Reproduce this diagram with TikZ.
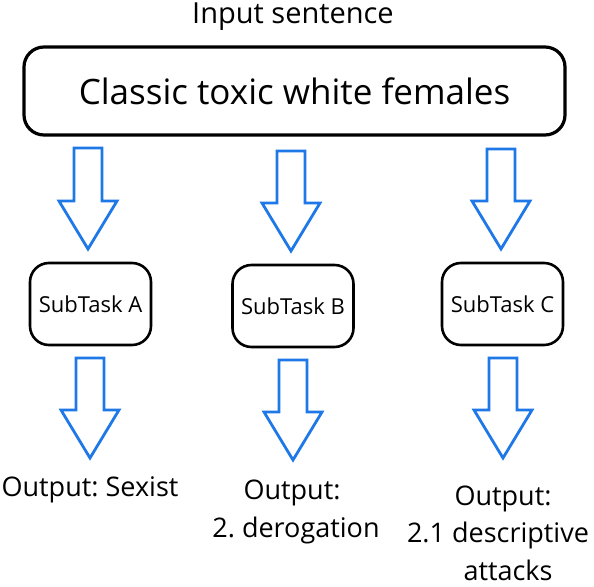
\documentclass[tikz,border=0pt]{standalone}
\usepackage{fontspec}
\setmainfont{Open Sans}
\frenchspacing
\definecolor{arrowblue}{HTML}{1F78E8}
\tikzset{
  mainbox/.style={draw=black, line width=3.2pt, rounded corners=20pt, minimum width=541pt, minimum height=88pt, inner sep=0pt},
  subbox/.style={draw=black, line width=2.6pt, rounded corners=19pt, minimum width=121pt, minimum height=82pt, inner sep=0pt, font=\fontsize{22}{26}\selectfont},
  lbl/.style={inner sep=0pt, align=center},
  outlbl/.style={lbl, font=\fontsize{27}{37.5}\selectfont},
  blockarrow/.style={draw=arrowblue, line width=2.8pt, fill=white, line join=miter, miter limit=10}
}
% #1 centre x, #2 top y, #3 head-base y, #4 tip y
\newcommand{\barrowat}[4]{%
  \draw[blockarrow] (#1-14,#2) -- (#1+14,#2) -- (#1+14,#3) -- (#1+29,#3) -- (#1,#4) -- (#1-29,#3) -- (#1-14,#3) -- cycle;}
\begin{document}
\begin{tikzpicture}[x=1pt,y=-1pt]
\useasboundingbox (0,0) rectangle (594,586);
\node[lbl, font=\fontsize{29}{34}\selectfont] (title) at (293,17) {Input sentence};
\node[mainbox, font=\fontsize{35}{40}\selectfont] (input) at (294.5,91) {Classic toxic white females};

\node[subbox] (sa) at (90.5,304) {SubTask A};
\node[subbox] (sb) at (293,306) {SubTask B};
\node[subbox] (sc) at (502.5,304) {SubTask C};

\barrowat{88}{148}{201}{249}
\barrowat{291}{151}{203}{251}
\barrowat{501}{149}{201}{249}

\barrowat{90}{358}{410}{458}
\barrowat{293}{360}{412}{460}
\barrowat{503}{358}{410}{458}

\node[outlbl] (oa) at (90,490) {Output: Sexist};
\node[outlbl] (ob) at (296,512) {\hspace*{-8pt}Output:\\2. derogation};
\node[outlbl] (oc) at (498,533) {\hspace*{10pt}Output:\\2.1 descriptive\\\hspace*{20pt}attacks};
\end{tikzpicture}
\end{document}
